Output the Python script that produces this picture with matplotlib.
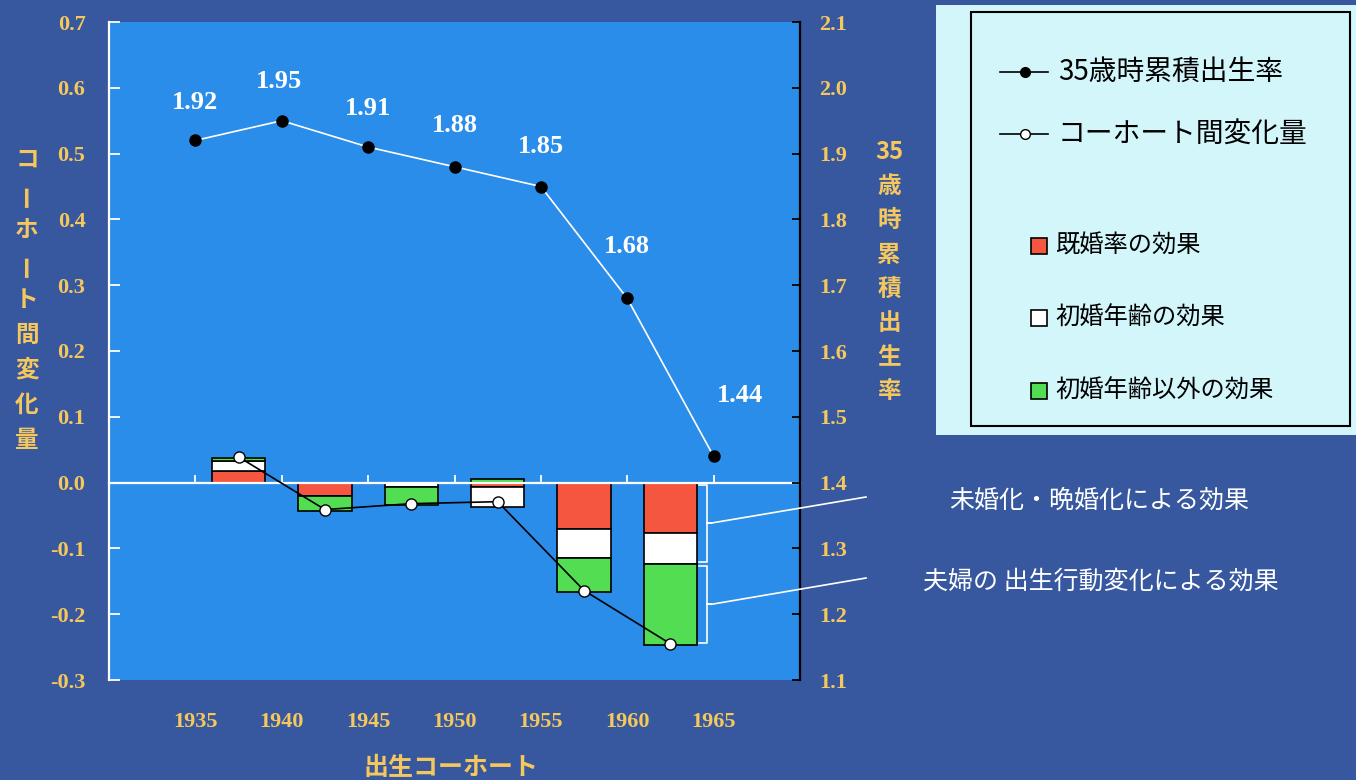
import numpy as np
import matplotlib
matplotlib.use('Agg')
import matplotlib.pyplot as plt
from matplotlib.lines import Line2D
from matplotlib.patches import Rectangle

plt.rcParams['font.family'] = ['Noto Sans CJK JP', 'DejaVu Sans']

# birth cohorts and cumulative fertility at age 35
cohorts = [1935, 1940, 1945, 1950, 1955, 1960, 1965]
tfr35 = [1.92, 1.95, 1.91, 1.88, 1.85, 1.68, 1.44]

# change between successive cohorts, split into three effects
mid_cohorts = [1937.5, 1942.5, 1947.5, 1952.5, 1957.5, 1962.5]
marriage_rate = [0.017, -0.020, -0.001, -0.006, -0.070, -0.077]
marriage_age = [0.016, -0.001, -0.005, -0.031, -0.045, -0.046]
other_effect = [0.004, -0.022, -0.028, 0.005, -0.051, -0.124]
cohort_change = [0.039, -0.041, -0.032, -0.029, -0.164, -0.245]

left_ticks = [-0.3, -0.2, -0.1, 0.0, 0.1, 0.2, 0.3, 0.4, 0.5, 0.6, 0.7]
right_ticks = [1.1, 1.2, 1.3, 1.4, 1.5, 1.6, 1.7, 1.8, 1.9, 2.0, 2.1]

# label offsets (points) for the value labels above the line
label_offsets = [(0, 27), (-2, 28), (0, 28), (0, 30), (0, 29), (0, 37), (19, 44)]

BG = '#37589E'
PLOT_BG = '#2B8DEA'
GOLD = '#F5C75C'
RED = '#F55640'
GREEN = '#52DD52'
W, H = 1356, 780

fig = plt.figure(figsize=(W / 100, H / 100), dpi=100, facecolor=BG)
ax = fig.add_axes([109 / W, 1 - 680 / H, 691 / W, 658 / H])
ax.set_facecolor(PLOT_BG)
ax.set_xlim(1930, 1970)
ax.set_ylim(-0.3, 0.7)

# stacked effect bars (positive and negative parts stack separately)
pos = np.zeros(len(mid_cohorts))
neg = np.zeros(len(mid_cohorts))
for vals, color in [(marriage_rate, RED), (marriage_age, 'white'), (other_effect, GREEN)]:
    v = np.array(vals)
    bottom = np.where(v >= 0, pos, neg)
    ax.bar(mid_cohorts, v, width=3.1, bottom=bottom, color=color,
           edgecolor='black', linewidth=1.2, zorder=2)
    pos += np.clip(v, 0, None)
    neg += np.clip(v, None, 0)

# zero line with small tick marks
secax = ax.secondary_xaxis(0.3)
secax.set_zorder(3)
secax.set_xticks(cohorts)
secax.tick_params(direction='in', length=6, color='white', width=1.3, labelbottom=False)
secax.spines['bottom'].set_color('white')
secax.spines['bottom'].set_linewidth(1.6)

ax.plot(mid_cohorts, cohort_change, color='black', lw=1.2, marker='o', markersize=8,
        markerfacecolor='white', markeredgecolor='black', markeredgewidth=1.0, zorder=4)

ax.set_xticks(cohorts, [str(c) for c in cohorts], fontfamily='Liberation Serif',
              fontweight='bold', fontsize=16, color=GOLD)
ax.tick_params(axis='x', length=0, pad=23)
ax.set_yticks(left_ticks, [f'{t:.1f}' for t in left_ticks], fontfamily='Liberation Serif',
              fontweight='bold', fontsize=16, color=GOLD)
ax.tick_params(axis='y', direction='in', length=8, width=1.3, color='white', pad=17)
for s in ['top', 'bottom', 'right']:
    ax.spines[s].set_visible(False)
ax.spines['left'].set_color('white')
ax.spines['left'].set_linewidth(1.6)

# cumulative fertility on the right axis
ax2 = ax.twinx()
ax2.set_ylim(1.1, 2.1)
ax2.plot(cohorts, tfr35, color='white', lw=1.2, marker='o', markersize=8,
         markerfacecolor='black', markeredgecolor='black', zorder=5)
for x, v, off in zip(cohorts, tfr35, label_offsets):
    ax2.annotate(f'{v:.2f}', (x, v), xytext=off, textcoords='offset points',
                 ha='center', va='center', color='white', fontsize=19,
                 fontfamily='Liberation Serif', fontweight='bold')
ax2.set_yticks(right_ticks, [f'{t:.1f}' for t in right_ticks], fontfamily='Liberation Serif',
               fontweight='bold', fontsize=16, color=GOLD)
ax2.tick_params(axis='y', direction='in', length=6, width=1.3, color='black', pad=14)
for s in ['top', 'bottom', 'left']:
    ax2.spines[s].set_visible(False)
ax2.spines['right'].set_color('black')
ax2.spines['right'].set_linewidth(1.6)


def vertical_text(x, y_top, chars, step, **kw):
    for i, ch in enumerate(chars):
        rot = 90 if ch == 'ー' else 0
        fig.text(x / W, 1 - (y_top + i * step) / H, ch, ha='center', va='center',
                 rotation=rot, **kw)


vertical_text(27, 160, list('コーホート間変化量'), 35, color=GOLD, fontsize=17, fontweight='bold')
vertical_text(889, 152, ['35', '歳', '時', '累', '積', '出', '生', '率'], 34.2,
              color=GOLD, fontsize=17, fontweight='bold')
fig.text(451 / W, 1 - 768 / H, '出生コーホート', ha='center', va='center',
         color=GOLD, fontsize=18, fontweight='bold')

# legend panel
fig.patches.append(Rectangle((936 / W, 1 - 435 / H), (W - 936) / W, 430 / H,
                             transform=fig.transFigure, facecolor='#D3F6FA', edgecolor='none'))
fig.patches.append(Rectangle((971 / W, 1 - 426 / H), 379 / W, 414 / H,
                             transform=fig.transFigure, facecolor='none', edgecolor='black', lw=1.5))
for y, face, label in [(71.5, 'black', '35歳時累積出生率'), (134, 'white', 'コーホート間変化量')]:
    fig.lines.append(Line2D([1000 / W, 1048 / W], [1 - y / H] * 2, transform=fig.transFigure,
                            color='black', lw=1.2))
    fig.lines.append(Line2D([1025 / W], [1 - y / H], transform=fig.transFigure, marker='o',
                            markersize=7, markerfacecolor=face, markeredgecolor='black', lw=0))
    fig.text(1058 / W, 1 - y / H, label, ha='left', va='center', fontsize=20, color='black')
for y, face, label in [(246, RED, '既婚率の効果'), (318, 'white', '初婚年齢の効果'),
                       (391, GREEN, '初婚年齢以外の効果')]:
    fig.patches.append(Rectangle((1031 / W, 1 - (y + 8) / H), 16 / W, 16 / H,
                                 transform=fig.transFigure, facecolor=face,
                                 edgecolor='black', lw=1.2))
    fig.text(1055 / W, 1 - y / H, label, ha='left', va='center', fontsize=17.5, color='black')

# braces beside the last bar with explanatory notes
fig.canvas.draw()
last = len(mid_cohorts) - 1
x_edge = ax.transData.transform((mid_cohorts[last] + 1.55, 0))[0]
spans = [(0.0, marriage_rate[last] + marriage_age[last], 497, '未婚化・晩婚化による効果', 1099),
         (marriage_rate[last] + marriage_age[last], neg[last], 578, '夫婦の 出生行動変化による効果', 1101)]
for top, bot, y_note, note, x_note in spans:
    yt = ax.transData.transform((0, top))[1] - 2
    yb = ax.transData.transform((0, bot))[1] + 2
    ym = (yt + yb) / 2
    xv = x_edge + 10
    xs = x_edge + 14
    fig.lines.append(Line2D([x_edge + 2, xv, xv, xs, xv, xv, x_edge + 2],
                            [yt, yt, ym, ym, ym, yb, yb], transform=None,
                            color='white', lw=1.2))
    fig.lines.append(Line2D([xs, 866], [ym, H - y_note], transform=None, color='white', lw=1.2))
    fig.text(x_note / W, 1 - (y_note + 4) / H, note, ha='center', va='center',
             color='white', fontsize=18)

fig.savefig('out.png', dpi=100, facecolor=BG)
